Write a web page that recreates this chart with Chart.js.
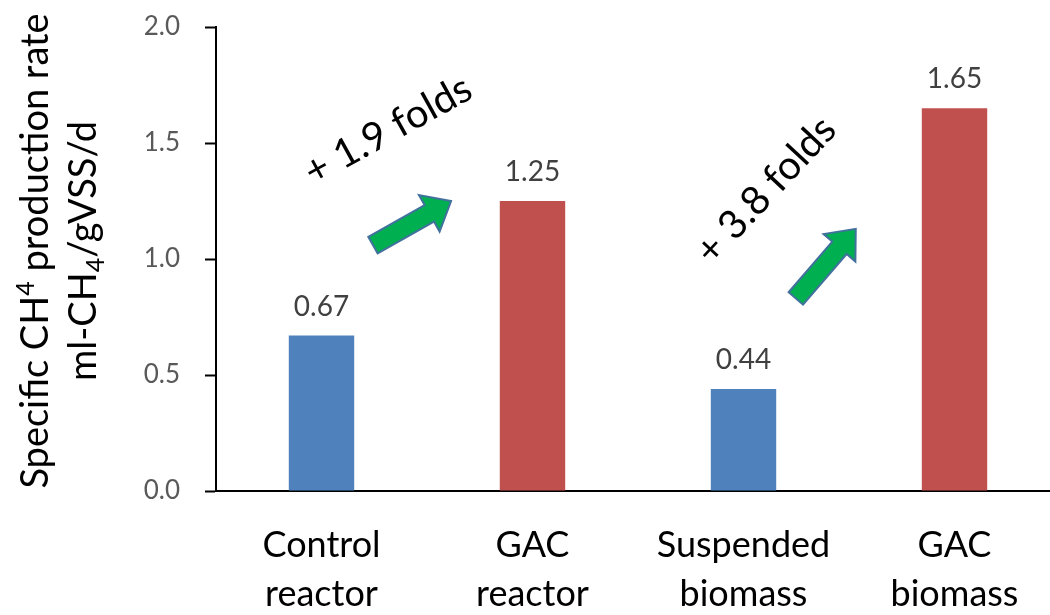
<!DOCTYPE html>
<html>
<head>
<meta charset="utf-8">
<script src="https://cdn.jsdelivr.net/npm/chart.js@4"></script>
<style>
    body { margin: 0; overflow: hidden; background: #fff; }
    #wrap { width: 1060px; height: 615px; }
</style>
</head>
<body>
<div id="wrap"><canvas id="methaneChart" width="1060" height="615"></canvas></div>
<script>
const categories = [
    ["Control", "reactor"],
    ["GAC", "reactor"],
    ["Suspended", "biomass"],
    ["GAC", "biomass"]
]
const rates = [0.67, 1.25, 0.44, 1.65]
const yTicks = [0, 0.5, 1.0, 1.5, 2.0]
const barColors = ["#4F81BD", "#C0504D", "#4F81BD", "#C0504D"]

// notes: [category index, value] for arrow tail / tip and text centre
const foldNotes = [
    { text: "+ 1.9 folds", at: [0.315, 1.555], angle: -29, tail: [0.244, 1.06], tip: [0.614, 1.25] },
    { text: "+ 3.8 folds", at: [2.106, 1.296], angle: -47, tail: [2.248, 0.83], tip: [2.532, 1.13] }
]

Chart.defaults.font.family = "Lato";

const drawArrow = (ctx, x1, y1, x2, y2) => {
    const ang = Math.atan2(y2 - y1, x2 - x1)
    const len = Math.hypot(x2 - x1, y2 - y1)
    const sw = 19, hw = 42, hl = 25
    ctx.save()
    ctx.translate(x1, y1)
    ctx.rotate(ang)
    ctx.beginPath()
    ctx.moveTo(0, -sw / 2)
    ctx.lineTo(len - hl, -sw / 2)
    ctx.lineTo(len - hl, -hw / 2)
    ctx.lineTo(len, 0)
    ctx.lineTo(len - hl, hw / 2)
    ctx.lineTo(len - hl, sw / 2)
    ctx.lineTo(0, sw / 2)
    ctx.closePath()
    ctx.fillStyle = "#00B050"
    ctx.fill()
    ctx.lineWidth = 2
    ctx.strokeStyle = "#41719C"
    ctx.stroke()
    ctx.restore()
}

// draws text pieces with sup/sub scripts, centred at 0 along the line
const drawRich = (ctx, parts, size, baseY) => {
    const fontOf = (p) => (p.s ? Math.round(size * 0.65) : size) + "px Lato"
    let total = 0
    parts.forEach(p => { ctx.font = fontOf(p); total += ctx.measureText(p.t).width })
    let x = -total / 2
    parts.forEach(p => {
        ctx.font = fontOf(p)
        let dy = 0
        if (p.s === "sup") dy = -size * 0.38
        if (p.s === "sub") dy = size * 0.2
        ctx.fillText(p.t, x, baseY + dy)
        x += ctx.measureText(p.t).width
    })
}

const extras = {
    id: "extras",
    afterDatasetsDraw(chart) {
        const ctx = chart.ctx
        const xs = chart.scales.x
        const ys = chart.scales.y
        const meta = chart.getDatasetMeta(0)

        // value labels
        ctx.save()
        ctx.font = "28px Lato"
        ctx.fillStyle = "#404040"
        ctx.textAlign = "center"
        ctx.textBaseline = "alphabetic"
        meta.data.forEach((bar, i) => {
            ctx.fillText(rates[i].toFixed(2), bar.x, bar.y - 20)
        })
        ctx.restore()

        // arrows and fold texts
        foldNotes.forEach(n => {
            drawArrow(ctx,
                xs.getPixelForValue(n.tail[0]), ys.getPixelForValue(n.tail[1]),
                xs.getPixelForValue(n.tip[0]), ys.getPixelForValue(n.tip[1]))
            ctx.save()
            ctx.translate(xs.getPixelForValue(n.at[0]), ys.getPixelForValue(n.at[1]))
            ctx.rotate(n.angle * Math.PI / 180)
            ctx.font = "40px Lato"
            ctx.fillStyle = "#000"
            ctx.textAlign = "center"
            ctx.textBaseline = "middle"
            ctx.fillText(n.text, 0, 0)
            ctx.restore()
        })

        // y axis title, two lines
        const cy = 251
        ctx.save()
        ctx.translate(0, cy)
        ctx.rotate(-Math.PI / 2)
        ctx.fillStyle = "#000"
        ctx.textAlign = "left"
        ctx.textBaseline = "alphabetic"
        drawRich(ctx, [{ t: "Specific CH" }, { t: "4", s: "sup" }, { t: " production rate" }], 38, 48)
        drawRich(ctx, [{ t: "ml-CH" }, { t: "4", s: "sub" }, { t: "/gVSS/d" }], 38, 96)
        ctx.restore()
    }
}

const ctx = document.getElementById("methaneChart").getContext("2d")
new Chart(ctx, {
    type: "bar",
    data: {
        labels: categories,
        datasets: [{
            data: rates,
            backgroundColor: barColors,
            categoryPercentage: 1,
            barPercentage: 0.31
        }]
    },
    options: {
        responsive: false,
        animation: false,
        devicePixelRatio: 1,
        layout: { padding: { top: 27, right: 0, left: 0, bottom: 0 } },
        plugins: {
            legend: { display: false },
            tooltip: { enabled: false }
        },
        scales: {
            x: {
                grid: { display: false },
                border: { display: true, color: "#000", width: 2 },
                ticks: {
                    color: "#000",
                    font: { size: 36, lineHeight: 1.36 },
                    padding: 22,
                    maxRotation: 0,
                    autoSkip: false
                },
                afterFit(scale) { scale.height = 124 }
            },
            y: {
                min: 0,
                max: 2,
                afterBuildTicks(scale) { scale.ticks = yTicks.map(v => ({ value: v })) },
                grid: {
                    drawOnChartArea: false,
                    drawTicks: true,
                    tickLength: 11,
                    tickColor: "#000",
                    tickWidth: 2
                },
                border: { display: true, color: "#000", width: 2 },
                ticks: {
                    color: "#595959",
                    font: { size: 26 },
                    padding: 25,
                    callback: v => Number(v).toFixed(1)
                },
                afterFit(scale) {
                    scale.width = 216
                    scale.paddingTop = 0
                    scale.paddingBottom = 0
                }
            }
        }
    },
    plugins: [extras]
})
</script>
</body>
</html>
